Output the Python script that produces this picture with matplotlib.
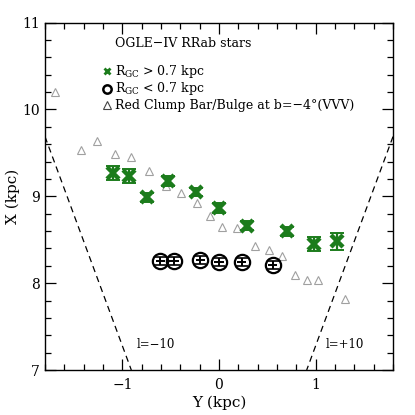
import matplotlib
matplotlib.use('Agg')
import matplotlib.pyplot as plt
import numpy as np

plt.rcParams['font.family'] = ['DejaVu Serif']
plt.rcParams['mathtext.fontset'] = 'dejavuserif'

# RRab stars with R_GC > 0.7 kpc
far_y = [-1.10, -0.935, -0.74, -0.527, -0.24, 0.0, 0.291, 0.706, 0.986, 1.217]
far_x = [9.267, 9.236, 8.986, 9.178, 9.048, 8.864, 8.661, 8.596, 8.454, 8.481]
far_err = [0.085, 0.08, 0.05, 0.06, 0.05, 0.06, 0.05, 0.05, 0.08, 0.10]

# RRab stars with R_GC < 0.7 kpc
near_y = [-0.606, -0.465, -0.192, -0.002, 0.233, 0.555]
near_x = [8.251, 8.259, 8.270, 8.244, 8.244, 8.205]
near_xerr = [0.05, 0.05, 0.05, 0.05, 0.05, 0.05]
near_yerr = [0.045, 0.045, 0.045, 0.045, 0.045, 0.045]

# red clump bar/bulge (VVV, b=-4)
rc_y = [-1.698, -1.425, -1.263, -1.077, -0.911, -0.724, -0.551, -0.389, -0.227,
        -0.094, 0.030, 0.189, 0.374, 0.513, 0.654, 0.782, 0.913, 1.027, 1.30]
rc_x = [10.205, 9.534, 9.638, 9.489, 9.457, 9.293, 9.113, 9.037, 8.922,
        8.768, 8.641, 8.630, 8.423, 8.385, 8.308, 8.094, 8.040, 8.037, 7.818]

# lines of sight l=-10 and l=+10
los_left_y = [-1.8, -0.907]
los_right_y = [1.8, 0.907]
los_x = [9.687, 7.0]

GREEN = '#1c7c1c'
GRAY = '#a0a0a0'

fig = plt.figure(figsize=(4.15, 4.15), dpi=100)
ax = fig.add_axes([0.1084, 0.1084, 0.8386, 0.8373])

ax.plot(los_left_y, los_x, color='black', lw=0.9, dashes=(5, 3.5))
ax.plot(los_right_y, los_x, color='black', lw=0.9, dashes=(5, 3.5))

ax.plot(rc_y, rc_x, ls='none', marker='^', ms=5.5, mfc='white', mec=GRAY, mew=0.8)

ax.errorbar(far_y, far_x, yerr=far_err, fmt='none', ecolor=GREEN, elinewidth=1.6,
            capsize=5, capthick=1.4)
ax.plot(far_y, far_x, ls='none', marker='x', ms=9, mew=3.2, color=GREEN)

ax.errorbar(near_y, near_x, xerr=near_xerr, fmt='none', ecolor='black', elinewidth=1.4,
            capsize=0)
ax.errorbar(near_y, near_x, yerr=near_yerr, fmt='none', ecolor='black', elinewidth=1.4,
            capsize=4, capthick=1.2)
ax.plot(near_y, near_x, ls='none', marker='o', ms=11, mfc='none', mec='black', mew=1.6)

ax.text(-0.852, 7.29, 'l=−10', fontsize=8.5, va='center', ha='left')
ax.text(1.107, 7.29, 'l=+10', fontsize=8.5, va='center', ha='left')

# legend drawn by hand
ax.text(-1.08, 10.76, 'OGLE−IV RRab stars', fontsize=9, va='center', ha='left')
ax.plot([-1.155], [10.44], ls='none', marker='x', ms=5, mew=2, color=GREEN)
ax.text(-1.08, 10.44, r'R$_\mathregular{GC}$ > 0.7 kpc', fontsize=9, va='center', ha='left')
ax.plot([-1.155], [10.24], ls='none', marker='o', ms=6, mfc='none', mec='black', mew=1.8)
ax.text(-1.08, 10.24, r'R$_\mathregular{GC}$ < 0.7 kpc', fontsize=9, va='center', ha='left')
ax.plot([-1.155], [10.045], ls='none', marker='^', ms=5.5, mfc='white', mec='#444444', mew=0.8)
ax.text(-1.08, 10.04, 'Red Clump Bar/Bulge at b=−4°(VVV)', fontsize=9, va='center', ha='left')

ax.set_xlim(-1.8, 1.8)
ax.set_ylim(7, 11)
ax.set_xticks([-1, 0, 1])
ax.set_xticks(np.arange(-1.8, 1.81, 0.2), minor=True)
ax.set_yticks([7, 8, 9, 10, 11])
ax.set_yticks(np.arange(7, 11.01, 0.2), minor=True)
ax.tick_params(which='both', direction='in', top=True, right=True, labelsize=10)
ax.tick_params(which='major', length=8, width=0.9)
ax.tick_params(which='minor', length=4.5, width=0.9)
ax.tick_params(axis='x', pad=6)
for s in ax.spines.values():
    s.set_linewidth(1.0)

ax.set_xlabel('Y (kpc)', fontsize=11, labelpad=2)
ax.set_ylabel('X (kpc)', fontsize=11, labelpad=2)

fig.savefig('out.png', dpi=100)
